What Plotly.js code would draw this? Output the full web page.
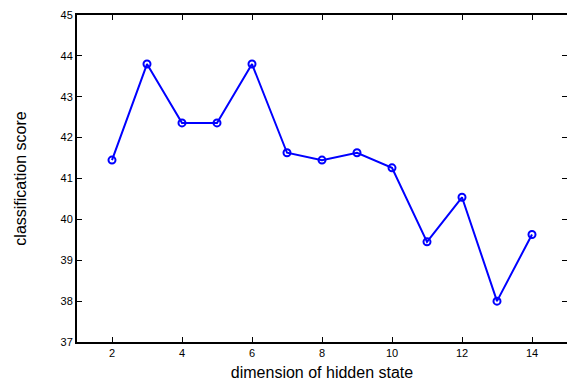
<!DOCTYPE html>
<html>
<head>
<meta charset="utf-8">
<script src="https://cdn.plot.ly/plotly-3.0.1.min.js"></script>
<style>html,body{margin:0;padding:0;background:#fff;}#chart{width:567px;height:381px;}</style>
</head>
<body>
<div id="chart"></div>
<script>
const hiddenDims = [2, 3, 4, 5, 6, 7, 8, 9, 10, 11, 12, 13, 14];
const scores = [41.45, 43.80, 42.36, 42.36, 43.80, 41.63, 41.45, 41.63, 41.26, 39.45, 40.54, 38.00, 39.63];
const xTicks = [2, 4, 6, 8, 10, 12, 14];
const yTicks = [37, 38, 39, 40, 41, 42, 43, 44, 45];

const trace = {
  x: hiddenDims,
  y: scores,
  type: 'scatter',
  mode: 'lines+markers',
  line: {color: '#0000ff', width: 2},
  marker: {symbol: 'circle-open', size: 7, color: '#0000ff', line: {width: 2, color: '#0000ff'}},
  showlegend: false
};
const rightTicks = {x: [hiddenDims[0]], y: [scores[0]], yaxis: 'y2', type: 'scatter', mode: 'markers',
  marker: {opacity: 0}, showlegend: false, hoverinfo: 'skip'};

const font = {family: 'Liberation Sans, Arial, sans-serif', color: '#000'};
const layout = {
  width: 567, height: 381,
  margin: {l: 77, r: 0, t: 15, b: 39},
  paper_bgcolor: '#fff', plot_bgcolor: '#fff',
  font: font,
  xaxis: {
    range: [1, 15], tickvals: xTicks, ticktext: xTicks.map(String),
    ticks: 'inside', ticklen: 5, tickwidth: 1, tickcolor: '#000',
    showline: true, linewidth: 2, linecolor: '#000', mirror: 'ticks',
    showgrid: false, zeroline: false,
    tickfont: {size: 11, family: font.family},
    title: {text: 'dimension of hidden state', font: {size: 16, family: font.family}, standoff: 15}
  },
  yaxis: {
    range: [37, 45], tickvals: yTicks, ticktext: yTicks.map(String),
    ticks: 'inside', ticklen: 5, tickwidth: 1, tickcolor: '#000',
    showline: true, linewidth: 2, linecolor: '#000', mirror: false,
    showgrid: false, zeroline: false,
    tickfont: {size: 11, family: font.family},
    title: {text: 'classification score', font: {size: 16, family: font.family}, standoff: 30}
  },
  yaxis2: {
    overlaying: 'y', side: 'right', range: [37, 45], tickvals: yTicks,
    showticklabels: false, ticks: 'inside', ticklen: 5, tickwidth: 1, tickcolor: '#000',
    showline: false, showgrid: false, zeroline: false
  }
};
Plotly.newPlot('chart', [trace, rightTicks], layout, {displayModeBar: false, staticPlot: true});
</script>
</body>
</html>
